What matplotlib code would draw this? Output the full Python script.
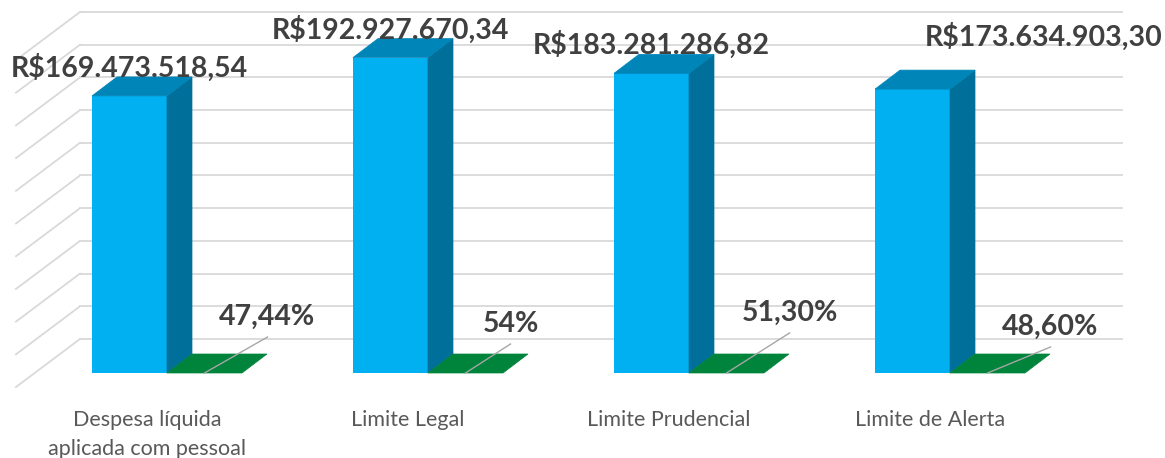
import matplotlib.pyplot as plt
import numpy as np
from matplotlib.patches import Polygon

categorias = ["Despesa líquida\naplicada com pessoal", "Limite Legal",
              "Limite Prudencial", "Limite de Alerta"]
valores = [169473518.54, 192927670.34, 183281286.82, 173634903.30]
percentuais = [47.44, 54.0, 51.30, 48.60]
rotulos_pct = ["47,44%", "54%", "51,30%", "48,60%"]

# escala da figura (px por categoria / px por real)
PXX = 261.0
PXY = 1.635e-6
def ux(p):
    return p / PXX
def uy(p):
    return p / PXY

w = ux(75)            # largura de cada coluna
ddx, ddy = ux(25), uy(19)   # profundidade das colunas

azul, azul_topo, azul_lado = "#00B0F0", "#0085B9", "#006F99"
verde_topo = "#00843C"
grade = "#D9D9D9"

plt.rcParams["font.family"] = ["Lato", "DejaVu Sans"]
fig = plt.figure(figsize=(11.65, 4.58), dpi=100)
ax = fig.add_axes([0, 0, 1, 1])
ax.set_xlim(-167 / PXX, (1165 - 167) / PXX)
ax.set_ylim(uy(-85), uy(373))
ax.axis("off")

# paredes (grade)
esq = ux(34.7 - 167)
fx, fy = ux(-18.7), uy(-14)
bx, by = ux(45.3), uy(34)
dir_ = ux(1122 - 167)
for v in np.arange(0, 200e6 + 1, 20e6):
    ax.plot([esq + bx, dir_], [v + by, v + by], color=grade, lw=1.3, zorder=1)
    ax.plot([esq + fx, esq + bx], [v + fy, v + by], color=grade, lw=1.3, zorder=1)

x = np.arange(len(categorias))
ax.bar(x - w, valores, width=w, align="edge", color=azul, zorder=3)
ax.bar(x, percentuais, width=w, align="edge", color=verde_topo, zorder=3)

for i, v in enumerate(valores):
    lado = [(i, 0), (i + ddx, ddy), (i + ddx, v + ddy), (i, v)]
    topo = [(i - w, v), (i - w + ddx, v + ddy), (i + ddx, v + ddy), (i, v)]
    ax.add_patch(Polygon(lado, closed=True, fc=azul_lado, ec=azul_lado, lw=0.5, zorder=3))
    ax.add_patch(Polygon(topo, closed=True, fc=azul_topo, ec=azul_topo, lw=0.5, zorder=3))
    p = percentuais[i]
    topo_v = [(i, p), (i + ddx, p + ddy), (i + w + ddx, p + ddy), (i + w, p)]
    ax.add_patch(Polygon(topo_v, closed=True, fc=verde_topo, ec=verde_topo, lw=0.5, zorder=3))

# rótulos dos valores
desloc_val = [(0, 0), (0, 0), (0, 0), (131, 24)]
for i, v in enumerate(valores):
    txt = "R$" + f"{v:,.2f}".replace(",", "#").replace(".", ",").replace("#", ".")
    dx, dy = desloc_val[i]
    ax.annotate(txt, (i - w / 2, v + ddy), xytext=(dx * 0.72, dy * 0.72),
                textcoords="offset points", ha="center", va="baseline",
                fontsize=20.5, fontweight="bold", color="#404040", zorder=5)

# rótulos percentuais com linha de chamada
desloc_pct = [(63, 36), (45, 29), (63, 40), (63, 26)]
for i, p in enumerate(percentuais):
    x0, y0 = i + w / 2, p
    dx, dy = desloc_pct[i]
    x1, y1 = x0 + ux(dx), y0 + uy(dy)
    ax.plot([x0, x1], [y0, y1], color="#A6A6A6", lw=1, zorder=4)
    ax.text(x1, y1 + uy(12), rotulos_pct[i], ha="center", va="baseline",
            fontsize=20.5, fontweight="bold", color="#404040", zorder=5)

# categorias (uma linha de texto por vez, 29 px entre linhas)
for i, c in enumerate(categorias):
    for k, linha in enumerate(c.split("\n")):
        ax.text(i + ux(-20), uy(-52.7 - 29 * k), linha, ha="center", va="baseline",
                fontsize=15.5, color="#595959", zorder=5)

fig.savefig("out.png", dpi=100)
